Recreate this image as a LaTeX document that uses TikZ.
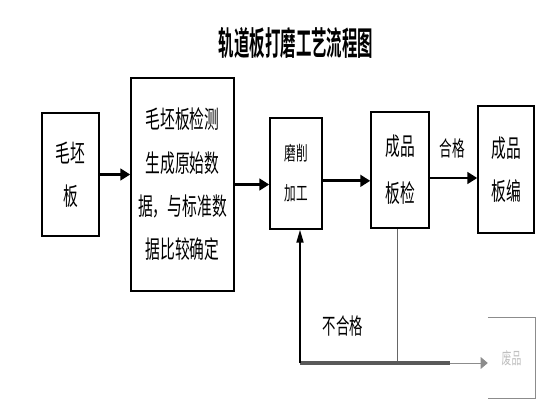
\documentclass[tikz,border=0pt]{standalone}
\usepackage{fontspec}
\usepackage{tikz}
\usetikzlibrary{arrows.meta}
\newfontfamily\cjk[FakeStretch=0.6]{Noto Sans CJK SC}
\newfontfamily\cjktitle[FakeStretch=0.47]{Noto Sans CJK SC Bold}

\begin{document}
\begin{tikzpicture}[x=0.03cm,y=-0.03cm,
    box/.style={draw,line width=1.3pt,inner sep=0pt,align=center},
    arr/.style={line width=2.4pt,-{Triangle[length=8.5pt,width=10pt]}},
    label/.style={font=\cjk\fontsize{18}{18}\selectfont}]
\useasboundingbox (0,0) rectangle (560,420);
\node[font=\cjktitle\fontsize{28}{28}\selectfont] (title) at (296,43) {轨道板打磨工艺流程图};
\node[box,minimum width=1.71cm,minimum height=3.69cm,font=\cjk\fontsize{21}{37}\selectfont] (blank) at (70.5,174.5) {毛坯\\板};
\node[box,minimum width=3.09cm,minimum height=6.39cm,font=\cjk\fontsize{21}{37}\selectfont] (detect) at (182.5,184.5) {毛坯板检测\\生成原始数\\据，与标准数\\据比较确定};
\node[box,minimum width=1.56cm,minimum height=3.33cm,font=\cjk\fontsize{16.5}{34}\selectfont] (grind) at (296,173.5) {磨削\\加工};
\node[box,minimum width=1.74cm,minimum height=3.48cm,font=\cjk\fontsize{21}{40}\selectfont] (check) at (400,170) {成品\\板检};
\node[box,minimum width=1.68cm,minimum height=3.81cm,font=\cjk\fontsize{21}{37}\selectfont] (done) at (506,169.5) {成品\\板编};
\node[inner sep=0pt,minimum width=1.41cm,minimum height=2.4cm,text=black!25,font=\cjk\fontsize{14}{14}\selectfont] (waste) at (511.5,358) {废品};
\node[label] (pass) at (452,148) {合格};
\node[label,font=\cjk\fontsize{19}{19}\selectfont] (fail) at (343,326) {不合格};
\coordinate (back) at (300,363);
\coordinate (split) at (450,363);
\draw[arr] (blank.east) -- (blank.east -| detect.west);
\draw[arr] (detect.east) -- (detect.east -| grind.west);
\draw[arr] ([yshift=-0.22cm]grind.east) -- ([yshift=-0.22cm]grind.east -| check.west);
\draw[arr] ([yshift=-0.24cm]check.east) -- ([yshift=-0.24cm]check.east -| done.west);
\draw[line width=0.8pt,black!60] ([xshift=-0.09cm]check.south) -- ([xshift=-0.09cm]check.south |- back);
\draw[line width=2.6pt,black!65] (back) -- (split);
\draw[line width=0.8pt,black!45,-{Triangle[length=6pt,width=10pt]}] (split) -- (split -| waste.west);
\draw[line width=1.4pt,-{Triangle[length=11pt,width=6pt]}] (back) -- (back |- grind.south);
\draw[line width=0.7pt,black!45] (waste.north west) -- (waste.north east) -- (waste.south east) -- (waste.south west);
\end{tikzpicture}
\end{document}
